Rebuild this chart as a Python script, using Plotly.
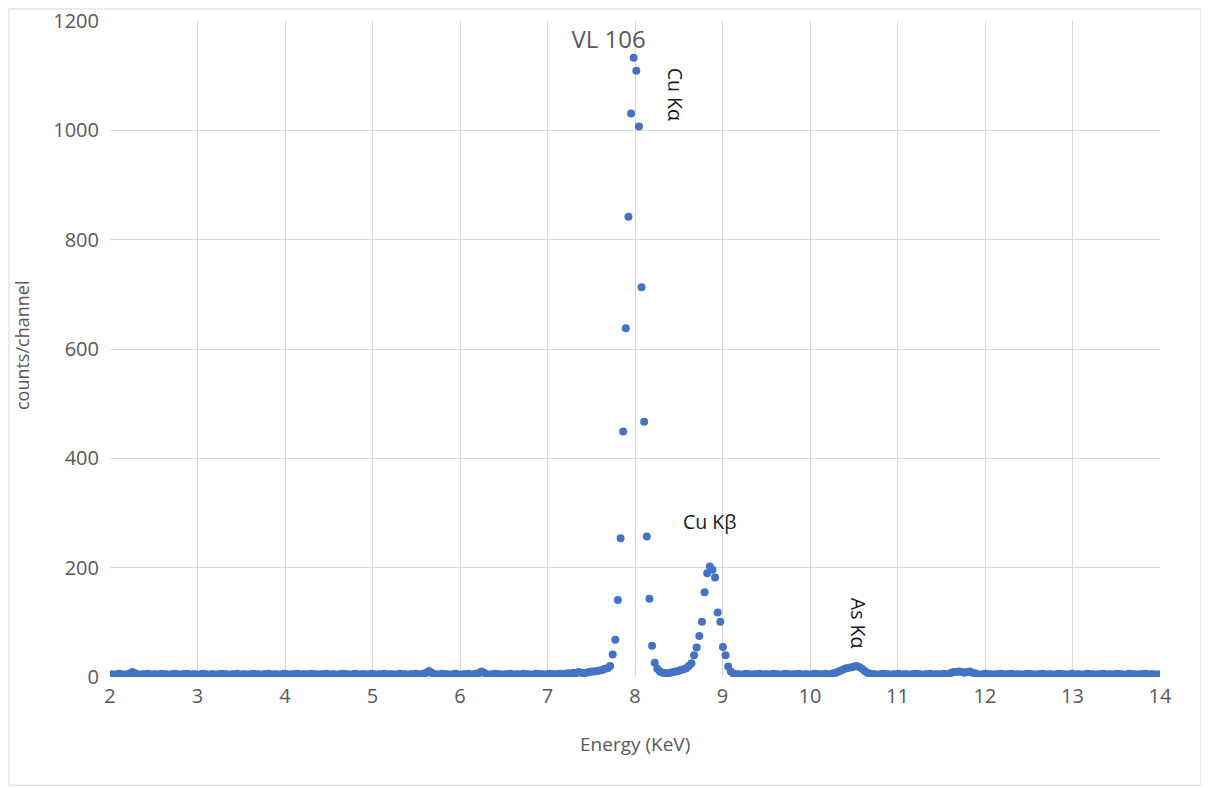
import numpy as np
import plotly.graph_objects as go

# channel calibration (keV)
E0 = 2.015
DE = 0.03

# counts per channel (channel 0 = 2.015 keV)
counts = [
    5, 4, 5, 6, 5, 4, 5, 6, 9, 7, 5, 4, 5, 5, 6, 4, 5, 5, 4, 6,
    5, 5, 4, 5, 6, 5, 4, 5, 5, 6, 4, 5, 5, 4, 5, 6, 5, 4, 5, 5,
    4, 5, 6, 5, 5, 4, 5, 5, 6, 4, 5, 5, 4, 5, 6, 5, 5, 4, 5, 5,
    6, 4, 5, 5, 4, 5, 6, 5, 4, 5, 5, 6, 4, 5, 5, 4, 6, 5, 5, 4,
    5, 5, 6, 4, 5, 5, 4, 5, 6, 5, 5, 4, 5, 6, 4, 5, 5, 5, 4, 6,
    5, 4, 5, 5, 6, 4, 5, 5, 4, 5, 6, 5, 5, 4, 5, 5, 6, 4, 5, 6,
    8, 11, 8, 5, 5, 4, 6, 5, 5, 4, 5, 6, 5, 4, 5, 5, 6, 4, 5, 6,
    7, 10, 8, 5, 4, 5, 6, 5, 5, 4, 5, 5, 6, 4, 5, 5, 4, 6, 5, 5,
    4, 5, 6, 5, 5, 4, 5, 6, 5, 5, 5, 6, 5, 6, 7, 6, 8, 7, 9, 8,
    7, 8, 9, 10, 10, 11, 12, 13, 15, 16, 20, 41, 68, 141, 254, 449, 638, 842, 1031, 1133,
    1109, 1007, 713, 467, 257, 143, 57, 26, 15, 10, 8, 7, 7, 8, 9, 10, 11, 13, 14, 16,
    20, 25, 40, 54, 75, 101, 155, 190, 202, 196, 182, 118, 101, 55, 40, 19, 10, 6, 5, 5,
    4, 5, 6, 5, 4, 5, 5, 6, 4, 5, 5, 4, 6, 5, 5, 4, 5, 6, 5, 4,
    5, 5, 6, 4, 5, 5, 4, 5, 6, 5, 5, 4, 6, 5, 5, 7, 8, 10, 12, 14,
    16, 17, 18, 19, 20, 18, 15, 11, 8, 6, 5, 5, 4, 5, 6, 5, 5, 4, 5, 5,
    6, 4, 5, 5, 4, 5, 6, 5, 5, 4, 5, 5, 6, 4, 5, 5, 4, 6, 5, 5,
    8, 9, 9, 10, 9, 8, 9, 10, 8, 7, 5, 4, 5, 6, 5, 5, 4, 5, 5, 6,
    4, 5, 5, 6, 4, 5, 5, 4, 5, 6, 5, 5, 4, 5, 5, 6, 4, 5, 5, 4,
    5, 6, 5, 5, 4, 5, 6, 4, 5, 5, 4, 5, 6, 5, 5, 4, 5, 5, 6, 4,
    5, 5, 4, 6, 5, 5, 4, 5, 6, 5, 5, 4, 5, 5, 6, 4, 5, 5, 4, 5,
]
energy = E0 + DE * np.arange(len(counts))

# peak labels: (text, energy, counts, angle)
peak_labels = [
    ("Cu Kα", 8.457, 1065, 90),
    ("Cu Kβ", 8.846, 284, 0),
    ("As Kα", 10.549, 99, 90),
]

FONT = "Open Sans"
GREY = "#595959"
GRID = "#d9d9d9"

fig = go.Figure(go.Scatter(
    x=energy, y=counts, mode="markers",
    marker=dict(color="#4472C4", size=8, line=dict(width=0)),
    showlegend=False,
))

for text, x, y, ang in peak_labels:
    fig.add_annotation(x=x, y=y, text=text, textangle=ang, showarrow=False,
                       font=dict(family=FONT, size=19.5, color="#1a1a1a"))

# axis titles placed by hand
fig.add_annotation(xref="paper", yref="paper", x=0.5, y=-0.102, text="Energy (KeV)",
                   xanchor="center", yanchor="middle", showarrow=False,
                   font=dict(family=FONT, size=19, color=GREY))
fig.add_annotation(xref="paper", yref="paper", x=-0.0838, y=0.506, text="counts/channel",
                   xanchor="center", yanchor="middle", textangle=-90, showarrow=False,
                   font=dict(family=FONT, size=18, color=GREY))

# outer chart border
fig.add_shape(type="rect", xref="paper", yref="paper",
              x0=-0.0962, x1=1.039, y0=-0.165, y1=1.0183,
              line=dict(color=GRID, width=1), layer="below")

fig.update_layout(
    width=1201, height=779,
    margin=dict(l=102, r=49, t=13, b=110),
    paper_bgcolor="white", plot_bgcolor="white",
    title=dict(text="VL 106", x=0.5, xanchor="center", y=0.959, yanchor="middle",
               font=dict(family=FONT, size=24, color=GREY)),
    font=dict(family=FONT, color=GREY),
)
fig.update_xaxes(range=[2, 14], dtick=1, showgrid=True, gridcolor=GRID, zeroline=False,
                 showline=False, ticks="", automargin=False, ticklabelstandoff=5,
                 ticklabeloverflow="allow", tickfont=dict(size=20, color=GREY))
fig.update_yaxes(range=[0, 1200], dtick=200, showgrid=True, gridcolor=GRID, zeroline=False,
                 showline=False, ticks="", automargin=False, ticklabelstandoff=10,
                 ticklabeloverflow="allow", tickfont=dict(size=20, color=GREY))

fig.write_html("out.html")
